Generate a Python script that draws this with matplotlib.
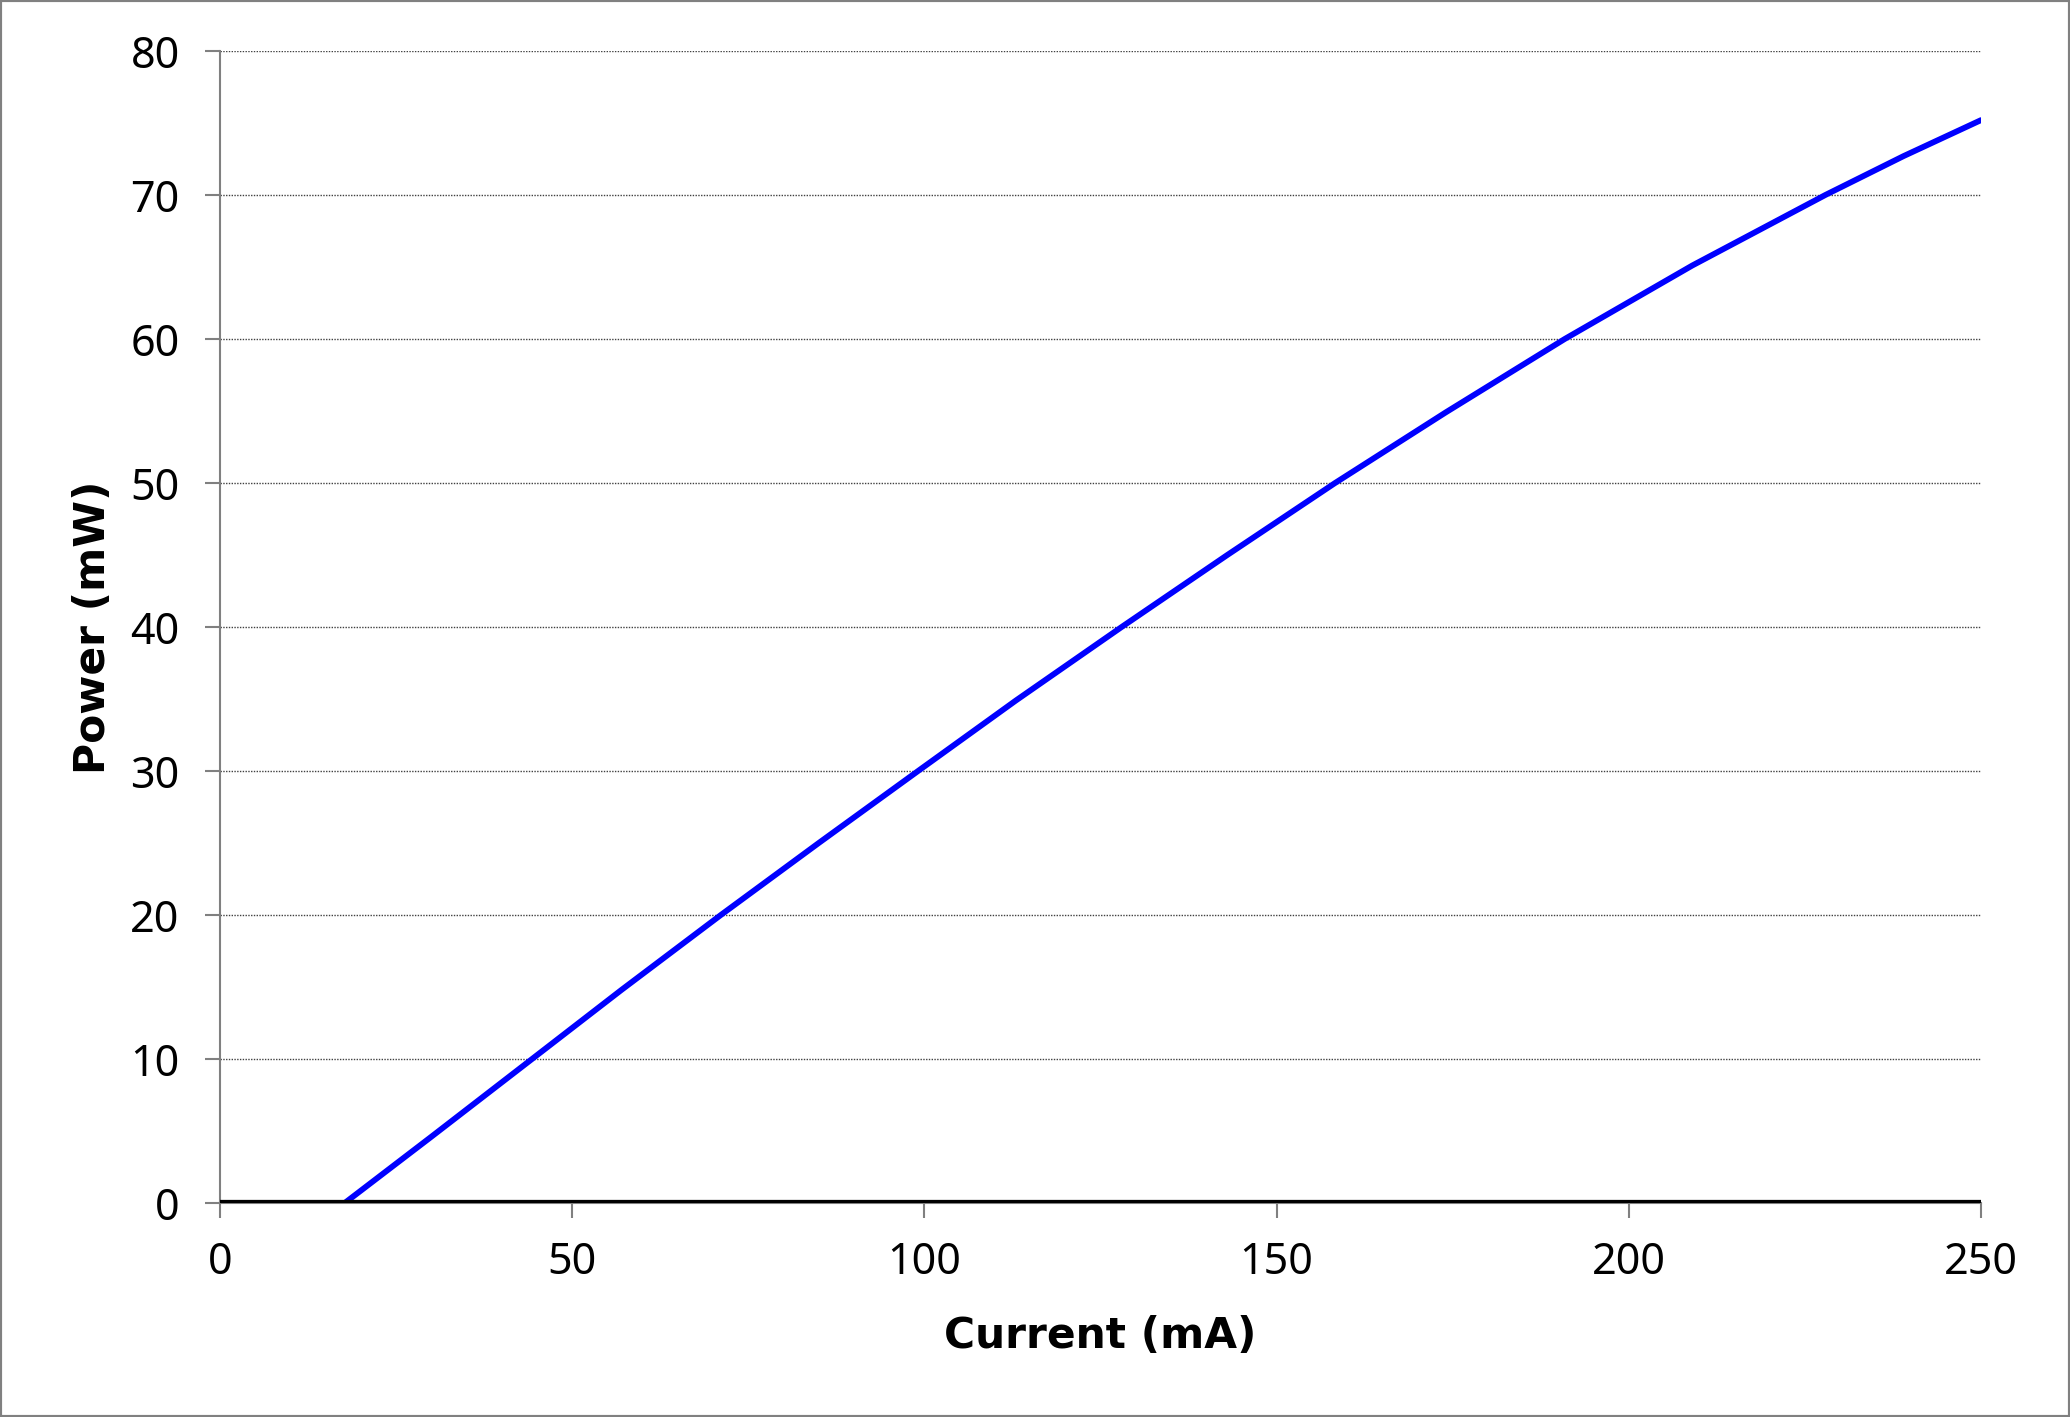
import matplotlib
matplotlib.use("Agg")
import matplotlib.pyplot as plt
from matplotlib.patches import Rectangle

# Data
current_ma = [0, 17.7, 30, 44.3, 57, 71.1, 85, 99.1, 113, 128.0, 143, 158.3,
              174, 190.9, 209, 227.9, 239, 250]
power_mw = [0, 0, 4.6, 10, 14.8, 20, 25.0, 30, 34.9, 40, 45.0, 50,
            54.9, 60, 65.1, 70, 72.7, 75.2]
baseline_current_ma = [0, 50, 100, 150, 200, 250]
baseline_power_mw = [0, 0, 0, 0, 0, 0]

x_ticks = [0, 50, 100, 150, 200, 250]
y_ticks = [0, 10, 20, 30, 40, 50, 60, 70, 80]

plt.rcParams['font.family'] = ['Noto Sans', 'DejaVu Sans']

fig = plt.figure(figsize=(20.7, 14.17), dpi=100)
ax = fig.add_axes([220/2070, 1 - 1203/1417, (1981-220)/2070, (1203-51)/1417])

ax.plot(current_ma, power_mw, color='#0000FF', lw=4.2, solid_capstyle='round',
        solid_joinstyle='round', zorder=3)
ax.plot(baseline_current_ma, baseline_power_mw, color='black', lw=4.5,
        solid_capstyle='round', zorder=4)

ax.set_xlim(0, 250)
ax.set_ylim(0, 80)
ax.set_xticks(x_ticks)
ax.set_yticks(y_ticks)
ax.set_xticklabels([str(v) for v in x_ticks])
ax.set_yticklabels([str(v) for v in y_ticks])

ax.yaxis.grid(True, linestyle=(0, (1, 1)), color='#404040', lw=1.0)
ax.set_axisbelow(True)

for s in ['top', 'right']:
    ax.spines[s].set_visible(False)
for s in ['left', 'bottom']:
    ax.spines[s].set_color('#808080')
    ax.spines[s].set_linewidth(1.5)
    ax.spines[s].set_zorder(1)

ax.tick_params(axis='both', direction='out', length=11, width=1.5, color='#808080',
               labelsize=31)
ax.tick_params(axis='y', pad=18)
ax.tick_params(axis='x', pad=16)

ax.set_xlabel('Current (mA)', fontsize=30.5, fontweight='bold', labelpad=22,
              family=['DejaVu Sans'])
ax.set_ylabel('Power (mW)', fontsize=30.5, fontweight='bold', labelpad=12,
              family=['DejaVu Sans'])

fig.patches.append(Rectangle((0, 0), 1, 1, transform=fig.transFigure, fill=False,
                             edgecolor='#808080', lw=3, zorder=10))

fig.savefig('out.png', dpi=100, facecolor='white')
